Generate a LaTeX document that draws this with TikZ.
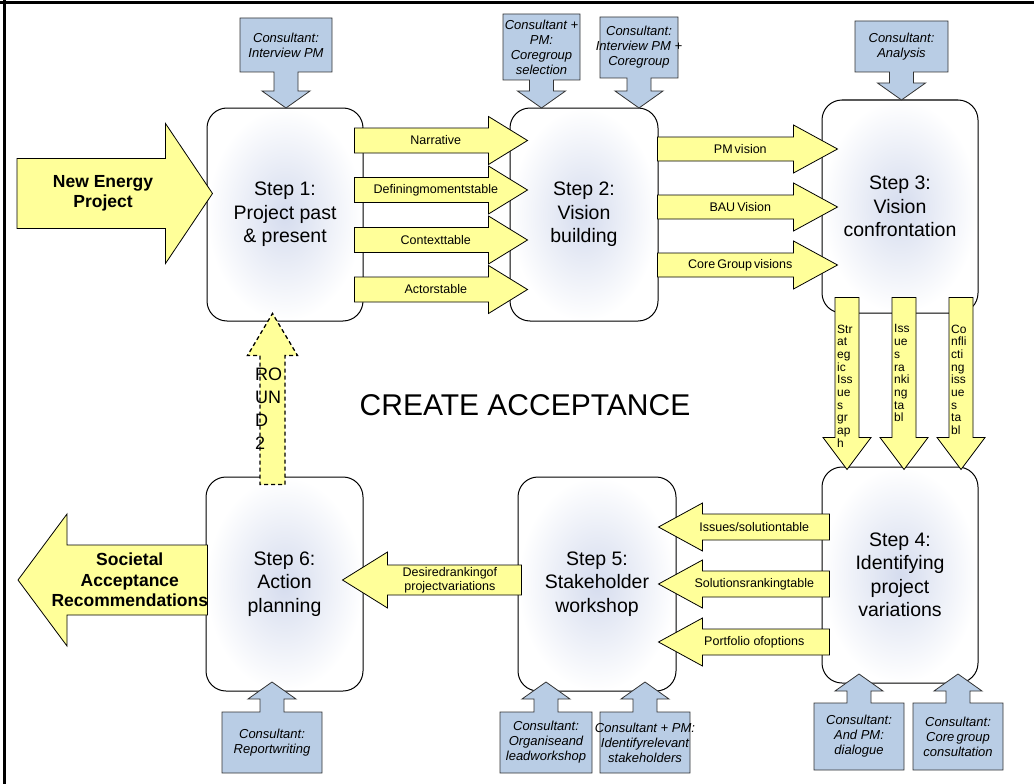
\documentclass[tikz,border=0pt]{standalone}
\usepackage{fontspec}
\setmainfont{Liberation Sans}
\usetikzlibrary{calc,positioning}
\definecolor{note}{HTML}{FFFF99}
\definecolor{callblue}{HTML}{B9CDE5}
\definecolor{stepcore}{HTML}{D5DCEE}
\definecolor{edge}{HTML}{333333}
% block arrow between two named points
\newcommand{\blockarrow}[6][]{%
  \draw[yarrow,#1] let \p1=#2, \p2=#3,
    \n1={atan2(\y2-\y1,\x2-\x1)}, \n2={veclen(\x2-\x1,\y2-\y1)} in
    [shift={(\p1)},rotate=\n1]
    (0,-#4) -- (\n2-#6,-#4) -- (\n2-#6,-#5) -- (\n2,0)
    -- (\n2-#6,#5) -- (\n2-#6,#4) -- (0,#4) -- cycle;
}
% blue note box with a short arrow
\newcommand{\callout}[7]{%
  \pgfmathsetmacro{\cx}{(#2+#3)/2}
  \pgfmathsetmacro{\cy}{(#4+#5)/2}
  \pgfmathsetmacro{\hb}{#6+17*sign(#5-#6)}
  \draw[callbox] (#2,#4) -- (#3,#4) -- (#3,#5) -- (\cx+12,#5) -- (\cx+12,\hb)
    -- (\cx+24,\hb) -- (\cx,#6) -- (\cx-24,\hb) -- (\cx-12,\hb) -- (\cx-12,#5)
    -- (#2,#5) -- cycle;
  \node[calltext] (#1) at (\cx,\cy) {#7};
}

\begin{document}
\begin{tikzpicture}[x=1pt,y=1pt,line join=miter,
  stepbox/.style={draw=black,line width=1pt,rounded corners=20pt,shade,
    inner color=stepcore,outer color=white,inner sep=0,align=center,
    font=\fontsize{19.5}{23.5}\selectfont},
  yarrow/.style={draw=black,fill=note,line width=.8pt},
  callbox/.style={draw=edge,fill=callblue,line width=.8pt},
  calltext/.style={font=\fontsize{13}{15}\selectfont\itshape,align=center,inner sep=0},
  arrowtext/.style={font=\fontsize{12.5}{14}\selectfont,align=center,inner sep=0},
  stacktext/.style={font=\fontsize{12}{12.7}\selectfont,align=left,inner sep=0,anchor=north west},
  bigtext/.style={font=\fontsize{17.5}{20.5}\selectfont\bfseries,align=center,inner sep=0}]
  \useasboundingbox (0,0) rectangle (1034,-784);
  \draw[line width=3.5pt] (0,-2.5) -- (1034,-2.5);
  \draw[line width=3.5pt] (4.5,0) -- (4.5,-784);

  % the six steps
  \node[stepbox,minimum width=156,minimum height=213] (s1) at (285,-214.5) {Step 1:\\Project past\\\& present};
  \node[stepbox,minimum width=148,minimum height=213] (s2) at (584,-214.5) {Step 2:\\Vision\\building};
  \node[stepbox,minimum width=156,minimum height=213] (s3) at (900,-206.5) {Step 3:\\Vision\\confrontation};
  \node[stepbox,minimum width=156,minimum height=216] (s4) at (900,-575) {Step 4:\\Identifying\\project\\variations};
  \node[stepbox,minimum width=158,minimum height=214] (s5) at (597,-584) {Step 5:\\Stakeholder\\workshop};
  \node[stepbox,minimum width=157,minimum height=214] (s6) at (284.5,-584) {Step 6:\\Action\\planning};

  \node[font=\fontsize{30}{34}\selectfont] (title) at (525,-405) {CREATE ACCEPTANCE};

  % step 1 -> step 2
  \foreach \y/\txt [count=\i] in {-140.5/Narrative,-190/Definingmomentstable,-240/Contexttable,-289.5/Actorstable}{
    \coordinate (pa\i) at ([xshift=-9]s1.east |- 0,\y);
    \coordinate (pb\i) at ([xshift=18]s2.west |- 0,\y);
    \blockarrow{(pa\i)}{(pb\i)}{12.5}{24}{39}
    \node[arrowtext] (nab\i) at ($(pa\i)!.47!(pb\i)$) {\txt};
  }
  % step 2 -> step 3
  \foreach \y/\txt [count=\i] in {-149/PM\,vision,-207/BAU\,Vision,-265/Core\,Group\,visions}{
    \coordinate (pc\i) at ([xshift=-1]s2.east |- 0,\y);
    \coordinate (pd\i) at ([xshift=16]s3.west |- 0,\y);
    \blockarrow{(pc\i)}{(pd\i)}{12}{24}{44}
    \node[arrowtext] (ncd\i) at ($(pc\i)!.46!(pd\i)$) {\txt};
  }
  % step 3 -> step 4
  \foreach \x/\txt [count=\i] in {847/{Str\\at\\eg\\ic\\Iss\\ue\\s\\gr\\ap\\h},
      904/{Iss\\ue\\s\\ra\\nki\\ng\\ta\\bl},
      961/{Co\\nfli\\cti\\ng\\iss\\ue\\s\\ta\\bl}}{
    \coordinate (pe\i) at ([yshift=16]s3.south -| \x,0);
    \coordinate (pf\i) at ([yshift=-3]s4.north -| \x,0);
    \blockarrow{(pe\i)}{(pf\i)}{12}{24}{32}
    \node[stacktext] (nef\i) at ([shift={(-10,-27)}]pe\i) {\txt};
  }
  % step 4 -> step 5
  \foreach \y/\txt [count=\i] in {-527/{Issues/solutiontable},-584/Solutionsrankingtable,-642/Portfolio ofoptions}{
    \coordinate (pg\i) at ([xshift=8]s4.west |- 0,\y);
    \coordinate (ph\i) at ([xshift=-18]s5.east |- 0,\y);
    \blockarrow{(pg\i)}{(ph\i)}{13}{24}{44}
    \node[arrowtext] (ngh\i) at ($(pg\i)!.44!(ph\i)$) {\txt};
  }
  % step 5 -> step 6
  \coordinate (pi) at ([xshift=4]s5.west |- 0,-580);
  \coordinate (pj) at ([xshift=-21]s6.east |- 0,-580);
  \blockarrow{(pi)}{(pj)}{15}{28}{45}
  \node[arrowtext] (nij) at ($(pi)!.4!(pj)$) {Desiredrankingof\\projectvariations};

  % in and out
  \coordinate (src) at (17,-193.5);
  \coordinate (pk) at ([xshift=6]s1.west |- src);
  \blockarrow{(src)}{(pk)}{35}{70}{47}
  \node[bigtext] (nsrc) at ($(src)!.44!(pk)$) {New Energy\\Project};
  \coordinate (dst) at (18,-580);
  \coordinate (pl) at ([xshift=2]s6.west |- dst);
  \blockarrow{(pl)}{(dst)}{35}{66}{49}
  \node[bigtext] (ndst) at ($(pl)!.41!(dst)$) {Societal\\Acceptance\\Recommendations};

  % round 2
  \coordinate (pm) at ([yshift=-8]s6.north -| 272.5,0);
  \coordinate (pn) at ([yshift=8]s1.south -| 272.5,0);
  \blockarrow[dash pattern=on 4pt off 3pt,line width=1.3pt]{(pm)}{(pn)}{12.5}{25}{42}
  \node[stacktext,font=\fontsize{18}{23}\selectfont] (nround) at ([shift={(-17.5,117)}]pm) {RO\\UN\\D\\2};

  % consultant notes
  \callout{c1}{240}{332}{-18}{-72}{-108}{Consultant:\\Interview PM}
  \callout{c2}{503}{580}{-14}{-80}{-108}{Consultant +\\PM:\\Coregroup\\selection}
  \callout{c3}{600}{678}{-17}{-78}{-108}{Consultant:\\Interview PM +\\Coregroup}
  \callout{c4}{855}{948}{-21}{-72}{-100}{Consultant:\\Analysis}
  \callout{c6}{222}{322}{-773}{-712}{-682}{Consultant:\\Reportwriting}
  \callout{c5a}{500}{592}{-773}{-712}{-682}{Consultant:\\Organiseand\\leadworkshop}
  \callout{c5b}{600}{690}{-773}{-712}{-682}{Consultant + PM:\\Identifyrelevant\\stakeholders}
  \callout{c4a}{814}{904}{-770}{-703}{-674}{Consultant:\\And PM:\\dialogue}
  \callout{c4b}{913}{1003}{-770}{-703}{-674}{Consultant:\\Core\,group\\consultation}
\end{tikzpicture}
\end{document}
